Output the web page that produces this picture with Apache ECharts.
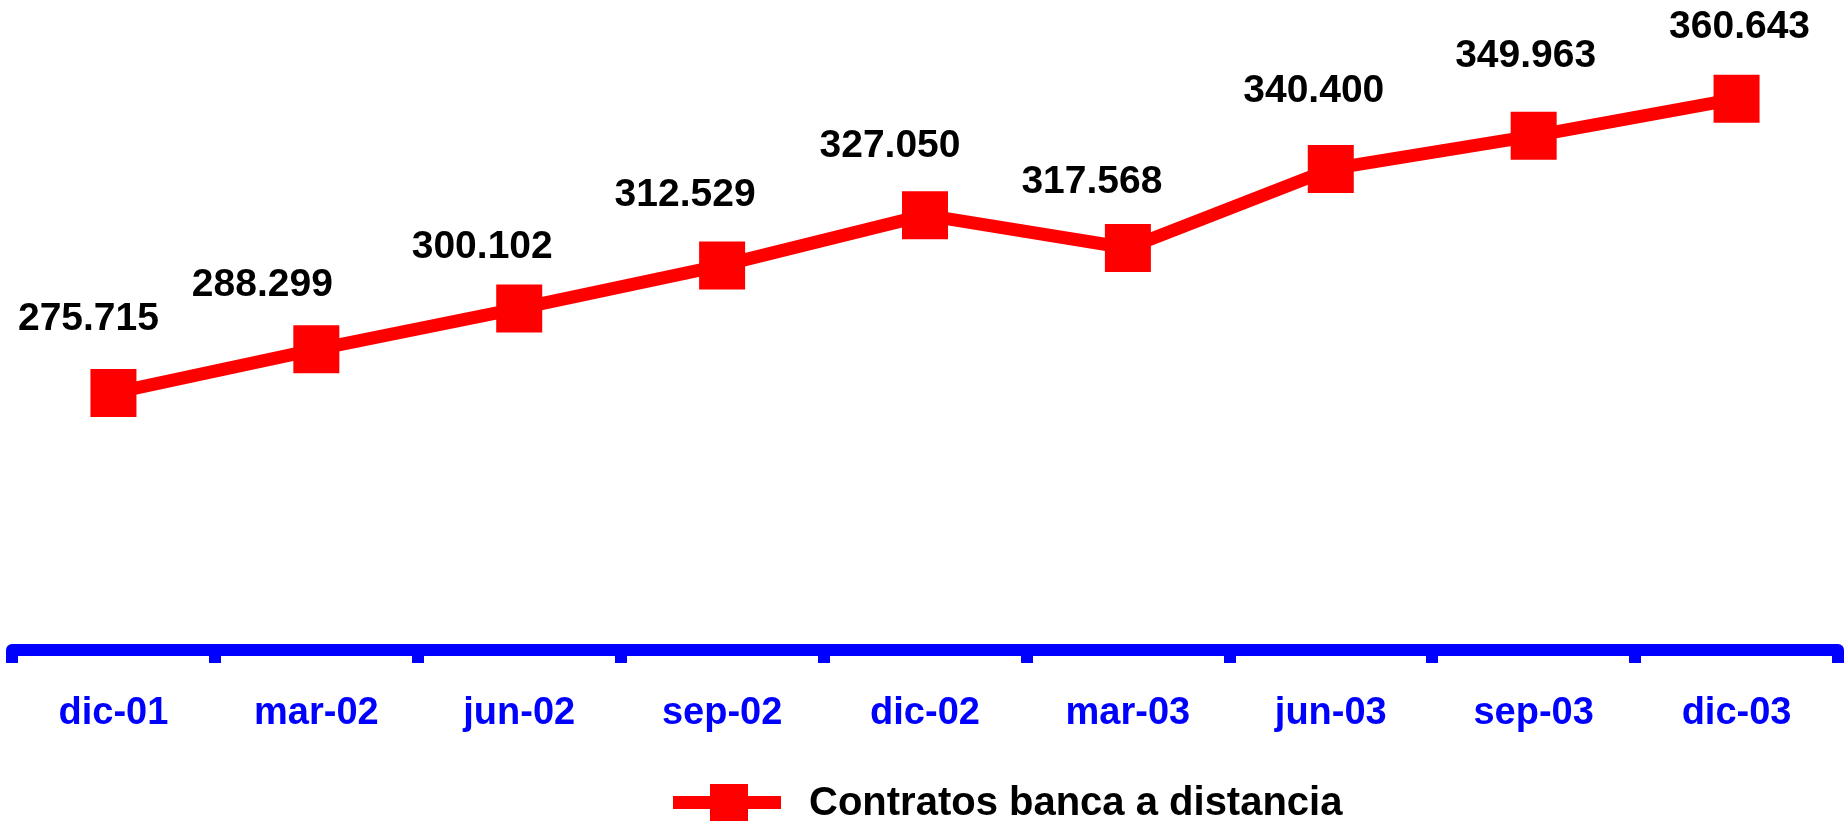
<!DOCTYPE html>
<html>
<head>
<meta charset="utf-8">
<title>Contratos banca a distancia</title>
<script src="https://cdn.jsdelivr.net/npm/echarts@6/dist/echarts.min.js"></script>
<style>
  html, body { margin: 0; padding: 0; background: #ffffff; }
  #chart { width: 1845px; height: 821px; }
</style>
</head>
<body>
<div id="chart"></div>
<script>
// Quarter labels and number of remote-banking contracts (thousands)
const categories = ['dic-01', 'mar-02', 'jun-02', 'sep-02', 'dic-02', 'mar-03', 'jun-03', 'sep-03', 'dic-03'];
const contratos = [275.715, 288.299, 300.102, 312.529, 327.050, 317.568, 340.400, 349.963, 360.643];
const seriesName = 'Contratos banca a distancia';

// Hand-placed value labels: offset of each label centre from its marker
const labelOffsets = [
  [-25, -74], [-54, -64], [-37, -61], [-37, -70], [-35, -69],
  [-36, -66], [-17, -78], [-8, -80], [3, -72]
];

// Values shown with three decimals (dot as thousands separator)
function fmt(v) {
  return v.toFixed(3);
}

const chart = echarts.init(document.getElementById('chart'), null, { renderer: 'canvas' });

const seriesData = contratos.map(function (v, i) {
  return {
    value: v,
    label: { offset: labelOffsets[i] }
  };
});

chart.setOption({
  animation: false,
  backgroundColor: '#ffffff',
  grid: { left: 12, right: 7, top: 0, bottom: 166, containLabel: false },
  xAxis: {
    type: 'category',
    data: categories,
    boundaryGap: true,
    offset: -5,
    axisLine: { show: true, lineStyle: { color: '#0000ff', width: 12 } },
    axisTick: { show: true, length: 13, lineStyle: { color: '#0000ff', width: 12 } },
    axisLabel: {
      color: '#0000ff',
      fontFamily: "'Liberation Sans', Arial, sans-serif",
      fontWeight: 'bold',
      fontSize: 38,
      margin: 45
    },
    splitLine: { show: false }
  },
  yAxis: {
    type: 'value',
    min: 200,
    max: 389.2,
    show: false,
    splitLine: { show: false }
  },
  legend: {
    show: true,
    left: 668,
    top: 779,
    itemWidth: 108,
    itemHeight: 40,
    // line with a square marker, as in the series
    icon: 'path://M0,12H37V0H75V12H108V25H75V40H37V25H0Z',
    itemStyle: { color: '#ff0000' },
    textStyle: {
      color: '#000000',
      fontFamily: "'Liberation Sans', Arial, sans-serif",
      fontWeight: 'bold',
      fontSize: 40,
      padding: [2, 0, 0, 23]
    },
    data: [seriesName]
  },
  series: [{
    name: seriesName,
    type: 'line',
    data: seriesData,
    symbol: 'rect',
    symbolSize: [46, 48],
    lineStyle: { color: '#ff0000', width: 13 },
    itemStyle: { color: '#ff0000' },
    label: {
      show: true,
      position: 'inside',
      color: '#000000',
      fontFamily: "'Liberation Sans', Arial, sans-serif",
      fontWeight: 'bold',
      fontSize: 39,
      formatter: function (p) { return fmt(p.value); }
    },
    emphasis: { disabled: true }
  }]
});
</script>
</body>
</html>
